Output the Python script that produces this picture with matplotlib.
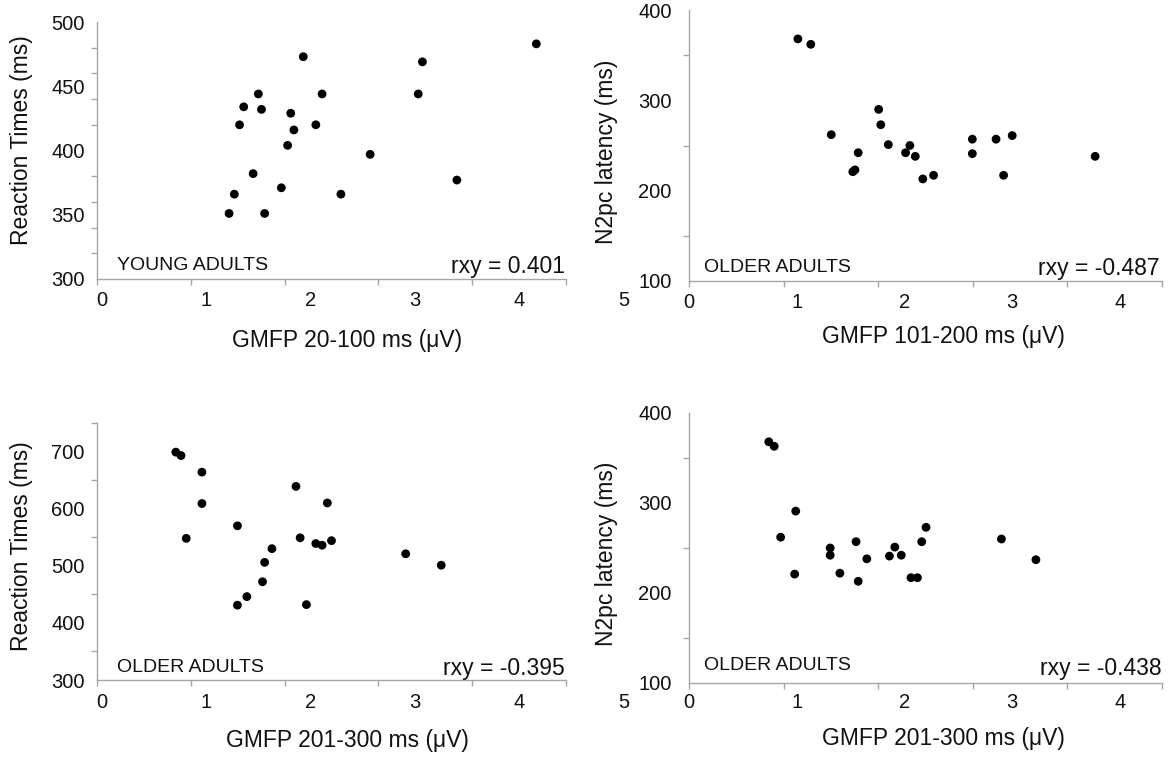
import matplotlib
matplotlib.use("Agg")
import matplotlib.pyplot as plt
import matplotlib.transforms as mtransforms
import numpy as np

plt.rcParams['font.family'] = ['Liberation Sans', 'DejaVu Sans']

# ---------------- data ----------------
# Panel A: young adults, GMFP 20-100 ms vs reaction times
gmfp_young_20_100 = [4.16, 1.93, 3.07, 1.50, 2.11, 3.03, 1.36, 1.53, 1.81, 1.32, 2.05,
                     1.84, 1.78, 2.57, 1.45, 3.40, 1.72, 1.27, 2.29, 1.22, 1.56]
rt_young = [483, 473, 469, 444, 444, 444, 434, 432, 429, 420, 420,
            416, 404, 397, 382, 377, 371, 366, 366, 351, 351]

# Panel B: older adults, GMFP 101-200 ms vs N2pc latency
gmfp_old_101_200 = [1.01, 1.13, 1.76, 1.78, 1.32, 3.00, 2.63, 2.85, 1.85, 2.05,
                    1.57, 2.01, 2.63, 2.10, 3.77, 1.52, 1.54, 2.92, 2.27, 2.17]
n2pc_old_b = [368, 362, 290, 273, 262, 261, 257, 257, 251, 250,
              242, 242, 241, 238, 238, 221, 223, 217, 217, 213]

# Panel C: older adults, GMFP 201-300 ms vs reaction times
gmfp_old_201_300_c = [0.71, 0.76, 0.96, 1.86, 0.96, 2.16, 1.30, 0.81, 1.90, 2.20,
                      2.05, 2.11, 1.63, 2.91, 1.56, 3.25, 1.54, 1.39, 1.30, 1.96]
rt_old = [699, 693, 664, 639, 609, 610, 570, 548, 549, 544,
          539, 536, 530, 521, 506, 501, 472, 446, 431, 432]

# Panel D: older adults, GMFP 201-300 ms vs N2pc latency
gmfp_old_201_300_d = [0.74, 0.79, 0.99, 2.20, 0.85, 2.90, 1.55, 2.16, 1.31, 1.91,
                      1.31, 1.86, 1.97, 1.65, 3.22, 0.98, 1.40, 1.57, 2.06, 2.12]
n2pc_old_d = [368, 363, 291, 273, 262, 260, 257, 257, 250, 251,
              242, 241, 242, 238, 237, 221, 222, 213, 217, 217]

x_tick_labels = ['0', '1', '2', '3', '4', '5']
group_labels = ['YOUNG ADULTS', 'OLDER ADULTS', 'OLDER ADULTS', 'OLDER ADULTS']
r_labels = ['rxy = 0.401', 'rxy = -0.487', 'rxy = -0.395', 'rxy = -0.438']
x_titles = ['GMFP 20-100 ms (\u03bcV)', 'GMFP 101-200 ms (\u03bcV)',
            'GMFP 201-300 ms (\u03bcV)', 'GMFP 201-300 ms (\u03bcV)']
y_titles = ['Reaction Times (ms)', 'N2pc latency (ms)',
            'Reaction Times (ms)', 'N2pc latency (ms)']

# ---------------- figure ----------------
W, H = 1170, 760
fig = plt.figure(figsize=(W / 100, H / 100), dpi=100)

def fx(px):
    return px / W

def fy(py):
    return 1 - py / H

GRAY = '#a6a6a6'
TXT = '#111111'

panels = [
    dict(x=gmfp_young_20_100, y=rt_young, box=(97, 22, 566, 279), L0=101.6, S=104.5,
         ylim=(300, 500), ylab=[300, 350, 400, 450, 500], yminor=20, ypad=9,
         xt_off=22, xtitle=(347, 340), ytitle=(22, 140), grp=(117, 266), r=(565, 267)),
    dict(x=gmfp_old_101_200, y=n2pc_old_b, box=(689, 10, 1162, 281), L0=689.1, S=107.7,
         ylim=(100, 400), ylab=[100, 200, 300, 400], yminor=50, ypad=12.5,
         xt_off=21, xtitle=(943, 337), ytitle=(607, 152), grp=(704, 267), r=(1160, 268)),
    dict(x=gmfp_old_201_300_c, y=rt_old, box=(97, 423, 566, 680), L0=101.6, S=104.5,
         ylim=(300, 750), ylab=[300, 400, 500, 600, 700], yminor=50, ypad=9,
         xt_off=23, xtitle=(347, 740), ytitle=(22, 546), grp=(117, 667), r=(565, 668)),
    dict(x=gmfp_old_201_300_d, y=n2pc_old_d, box=(689, 413, 1162, 683), L0=689.1, S=107.7,
         ylim=(100, 400), ylab=[100, 200, 300, 400], yminor=50, ypad=12.5,
         xt_off=20, xtitle=(943, 738), ytitle=(607, 554), grp=(704, 666), r=(1162, 668)),
]

for i, p in enumerate(panels):
    x0, y0, x1, y1 = p['box']
    ax = fig.add_axes([fx(x0), fy(y1), (x1 - x0) / W, (y1 - y0) / H])
    ax.scatter(p['x'], p['y'], s=40, color='black', edgecolors='none', zorder=3)

    xlo = (x0 - p['L0']) / p['S']
    xhi = (x1 - p['L0']) / p['S']
    ax.set_xlim(xlo, xhi)
    ax.set_ylim(*p['ylim'])

    for side in ['top', 'right']:
        ax.spines[side].set_visible(False)
    for side in ['left', 'bottom']:
        ax.spines[side].set_color(GRAY)
        ax.spines[side].set_linewidth(1.0)

    # x: tick marks (unlabelled) evenly across the axis
    ax.set_xticks([])
    ax.set_xticks(np.linspace(xlo, xhi, 6), minor=True)
    # y: labels at major positions, tick marks at minor positions
    ax.set_yticks(p['ylab'])
    ax.set_yticklabels([str(v) for v in p['ylab']], fontsize=14.5, color=TXT)
    ax.set_yticks(np.arange(p['ylim'][0], p['ylim'][1] + 0.1, p['yminor']), minor=True)
    ax.tick_params(axis='y', which='major', length=0, pad=p['ypad'])
    ax.tick_params(which='minor', length=4, width=1.0, color=GRAY, direction='out')

    # x tick labels (drawn as text so they can spill outside the axis)
    trans = mtransforms.blended_transform_factory(ax.transData, ax.transAxes) + \
        mtransforms.ScaledTranslation(0, -p['xt_off'] / 100, fig.dpi_scale_trans)
    for k, lab in enumerate(x_tick_labels):
        if p['L0'] + k * p['S'] > W - 10:
            continue  # falls outside the picture
        ax.text(k, 0, lab, transform=trans, ha='center', va='center',
                fontsize=14.5, color=TXT, clip_on=False)

    fig.text(fx(p['xtitle'][0]), fy(p['xtitle'][1]), x_titles[i], ha='center', va='center',
             fontsize=16.5, color=TXT)
    fig.text(fx(p['ytitle'][0]), fy(p['ytitle'][1]), y_titles[i], ha='center', va='center',
             rotation=90, fontsize=16.5, color=TXT)
    fig.text(fx(p['grp'][0]), fy(p['grp'][1]), group_labels[i], ha='left', va='center',
             fontsize=14, color=TXT)
    fig.text(fx(p['r'][0]), fy(p['r'][1]), r_labels[i], ha='right', va='center',
             fontsize=16.5, color=TXT)

fig.savefig('out.png', dpi=100, facecolor='white')
